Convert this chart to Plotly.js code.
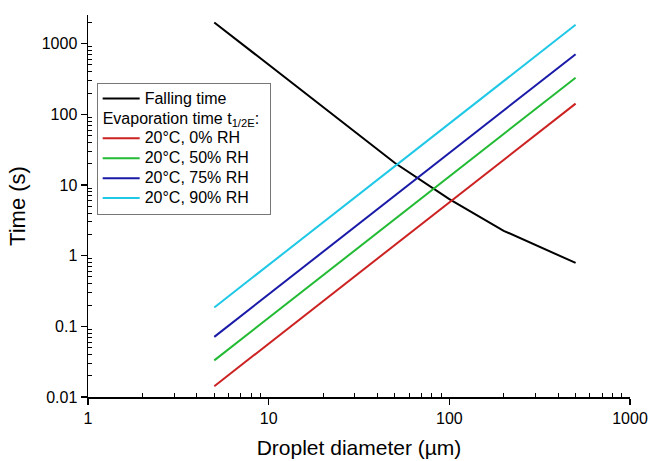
<!DOCTYPE html>
<html>
<head>
<meta charset="utf-8">
<script src="https://cdn.plot.ly/plotly-3.0.1.min.js"></script>
<style>
html,body{margin:0;padding:0;background:#fff;}
#chart{width:651px;height:461px;}
</style>
</head>
<body>
<div id="chart"></div>
<script>
// Droplet diameter (µm)
const diameter = [5, 10, 20, 50, 100, 200, 500];
// Falling time (s)
const fallingTime = [2000, 500, 126, 20.5, 6.3, 2.25, 0.79];
// Evaporation time t1/2E (s)
const evap0 = [0.0142, 0.057, 0.227, 1.42, 5.7, 22.7, 142];
const evap50 = [0.033, 0.132, 0.53, 3.3, 13.2, 53, 330];
const evap75 = [0.071, 0.284, 1.14, 7.1, 28.4, 114, 710];
const evap90 = [0.185, 0.74, 2.96, 18.5, 74, 296, 1850];

const seriesNames = ['Falling time', '20°C, 0% RH', '20°C, 50% RH', '20°C, 75% RH', '20°C, 90% RH'];
const evapTitle = 'Evaporation time t<sub>1/2E</sub>:';
const xTickVals = [1, 10, 100, 1000];
const xTickText = ['1', '10', '100', '1000'];
const yTickVals = [0.01, 0.1, 1, 10, 100, 1000];
const yTickText = ['0.01', '0.1', '1', '10', '100', '1000'];

function minorVals(lo, hi) {
  const out = [];
  for (let p = lo; p < hi; p++) {
    for (let k = 2; k <= 9; k++) out.push(k * Math.pow(10, p));
  }
  return out;
}

const big = s => '<span style="font-size:16px">' + s + '</span>';

const colors = ['#000000', '#cc2222', '#22bb33', '#1a1aa8', '#1ec8e6'];
const ys = [fallingTime, evap0, evap50, evap75, evap90];

const traces = ys.map((y, i) => {
  const t = {
    x: diameter, y: y, type: 'scatter', mode: 'lines',
    name: big(seriesNames[i]),
    line: {color: colors[i], width: 2},
    legendgroup: i === 0 ? 'fall' : 'evap'
  };
  if (i === 1) t.legendgrouptitle = {text: big(evapTitle), font: {size: 13, color: '#000'}};
  return t;
});

const font = 'Liberation Sans, Arial, sans-serif';
const layout = {
  width: 651, height: 461,
  margin: {l: 88, r: 21, t: 15, b: 64},
  paper_bgcolor: '#fff', plot_bgcolor: '#fff',
  font: {family: font, color: '#000'},
  showlegend: true,
  legend: {
    x: 0.016, y: 0.823, xanchor: 'left', yanchor: 'top',
    bordercolor: '#777', borderwidth: 1, bgcolor: '#fff',
    font: {size: 13, color: '#000'},
    tracegroupgap: 0, itemwidth: 37, traceorder: 'grouped'
  },
  xaxis: {
    type: 'log', range: [0, 3],
    tickmode: 'array', tickvals: xTickVals, ticktext: xTickText,
    ticks: 'outside', ticklen: 6, tickwidth: 1.5, tickcolor: '#000',
    showline: true, linecolor: '#000', linewidth: 1.5,
    showgrid: false, zeroline: false,
    tickfont: {size: 16},
    minor: {tickmode: 'array', tickvals: minorVals(0, 3), ticks: 'inside', ticklen: 4, tickwidth: 1, tickcolor: '#000', showgrid: false},
    title: {text: 'Droplet diameter (µm)', font: {size: 21}, standoff: 14}
  },
  yaxis: {
    type: 'log', range: [-2, 3.406],
    tickmode: 'array', tickvals: yTickVals, ticktext: yTickText,
    ticks: 'outside', ticklen: 6, tickwidth: 1.5, tickcolor: '#000',
    showline: true, linecolor: '#000', linewidth: 1.5,
    showgrid: false, zeroline: false,
    tickfont: {size: 16},
    minor: {tickmode: 'array', tickvals: minorVals(-2, 4), ticks: 'inside', ticklen: 4, tickwidth: 1, tickcolor: '#000', showgrid: false},
    title: {text: 'Time (s)', font: {size: 22}, standoff: 10}
  }
};

Plotly.newPlot('chart', traces, layout, {displayModeBar: false, staticPlot: true});
</script>
</body>
</html>
